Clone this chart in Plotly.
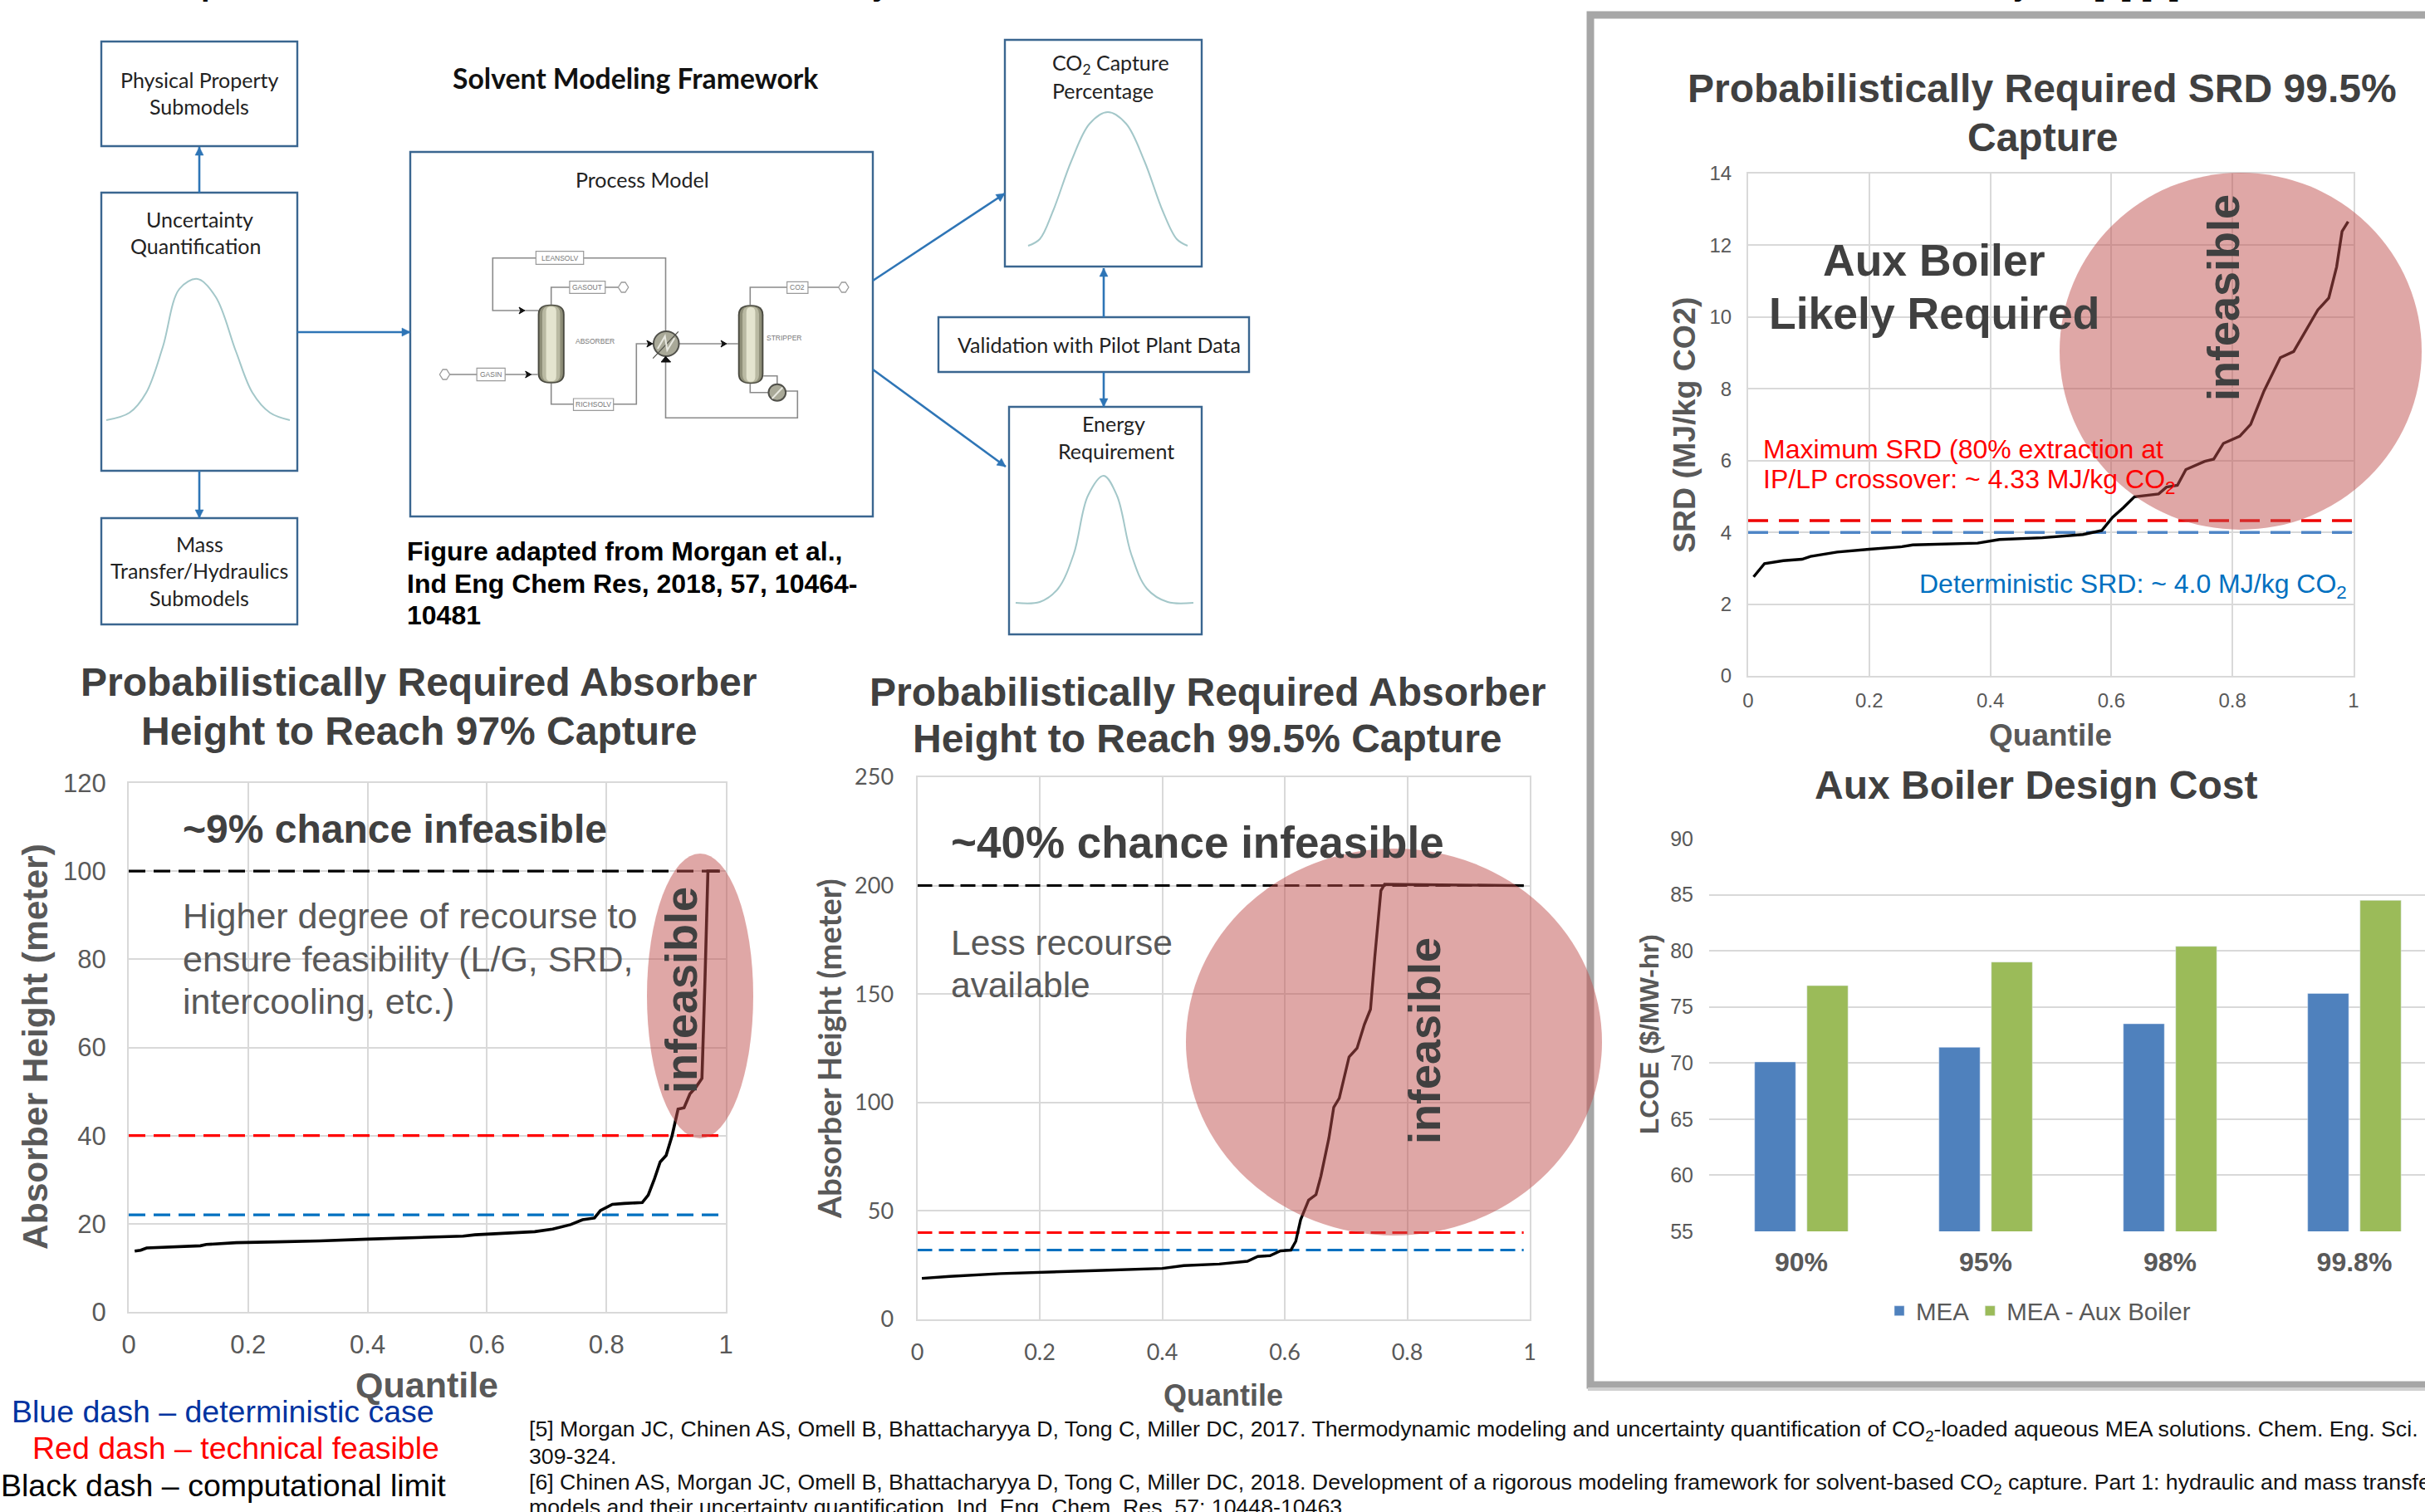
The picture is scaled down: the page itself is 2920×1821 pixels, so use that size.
import math
import plotly.graph_objects as go

W, H = 2920, 1821

# ---------- data ----------
q1 = [0.01,0.02,0.03,0.05,0.08,0.12,0.13,0.15,0.18,0.25,0.32,0.40,0.48,0.56,0.58,0.64,0.68,0.71,0.74,0.76,0.78,0.79,0.81,0.83,0.86,0.87,0.88,0.89,0.90,0.91,0.92,0.93,0.94,0.95,0.96,0.965,0.97,0.99]
h1 = [13.8,14,14.5,14.6,14.8,15,15.3,15.5,15.7,15.9,16.1,16.5,16.8,17.2,17.5,18,18.2,18.8,19.8,20.9,21.3,23,24.4,24.6,24.8,26.5,30,34,35.5,40,46,46.3,49.5,51,53,75,100,100]
q2 = [.0075,.053,.136,.219,.302,.4,.435,.493,.539,.556,.576,.593,.61,.618,.626,.639,.651,.659,.672,.68,.689,.705,.718,.73,.74,.747,.757,.763,.99]
h2 = [18.9,19.8,21.1,22,22.6,23.5,24.8,25.5,26.8,29,29.4,31.6,31.9,36,46,55,57.5,66,83.5,97.8,102,121,125,136,143,167,197.7,200.6,200]
q3 = [.009,.027,.058,.089,.103,.147,.2,.254,.272,.379,.415,.486,.553,.584,.602,.62,.638,.678,.691,.709,.723,.754,.769,.785,.812,.83,.852,.879,.901,.941,.959,.972,.981,.991]
s3 = [2.76,3.13,3.21,3.25,3.33,3.45,3.53,3.6,3.65,3.7,3.8,3.85,3.94,4.05,4.42,4.69,4.99,5.07,5.26,5.31,5.75,5.98,6.04,6.48,6.68,7.01,7.94,8.87,9.04,10.2,10.53,11.4,12.39,12.66]
limit_x = [0, 0.99]
limit_x3 = [0, 1]
c1_black, c1_red, c1_blue = 100, 40, 22
c2_black, c2_red, c2_blue = 200, 40, 32
c3_red, c3_blue = 4.33, 4.0
q_ticks = [0, 0.2, 0.4, 0.6, 0.8, 1]
q_ticktext = ["0", "0.2", "0.4", "0.6", "0.8", "1"]
y1_ticks = [0, 20, 40, 60, 80, 100, 120]
y2_ticks = [0, 50, 100, 150, 200, 250]
y3_ticks = [0, 2, 4, 6, 8, 10, 12, 14]
y4_ticks = [55, 60, 65, 70, 75, 80, 85, 90]
capture = ["90%", "95%", "98%", "99.8%"]
lcoe_mea = [70.1, 71.4, 73.5, 76.2]
lcoe_aux = [76.9, 79.0, 80.4, 84.5]

# bell curves in the flow diagram
bell_u_x = [128,156,176,196,216,238,260,284,304,325,349]
bell_u_y = [506,497,473,418,348,336,358,423,473,497,506]
bell_c_x = [1238,1252,1268,1290,1312,1334,1356,1378,1400,1417,1430]
bell_c_y = [296,288,254,194,149,135,149,194,254,288,296]
bell_e_x = [1223,1252,1274,1293,1310,1329,1345,1362,1381,1406,1437]
bell_e_y = [726,725,709,667,597,573,597,667,709,725,726]

# ---------- helpers ----------
GRID = "#d9d9d9"
TICK = "#595959"
DARK = "#404040"
AX = "#595959"
ARIAL = "Liberation Sans"
CAL = "Lato"
shapes, ann = [], []

def dom_x(a, b): return [a / W, b / W]
def dom_y(top, bot): return [1 - bot / H, 1 - top / H]

def T(x, y, text, size, color="#000000", bold=False, family=ARIAL, anchor="center", angle=0, yanchor="middle"):
    ann.append(dict(x=x, y=y, xref="x5", yref="y5", text=("<b>%s</b>" % text) if bold else text,
                    showarrow=False, xanchor=anchor, yanchor=yanchor, textangle=angle, borderpad=0,
                    font=dict(family=family, size=size, color=color)))

def box(x0, y0, x1, y1, color="#3a6690", width=2.4, fill=None):
    shapes.append(dict(type="rect", xref="x5", yref="y5", x0=x0, y0=y0, x1=x1, y1=y1,
                       line=dict(color=color, width=width), fillcolor=fill or "rgba(0,0,0,0)", layer="above"))

def arrow(x0, y0, x1, y1):
    col = "#2e75b6"
    shapes.append(dict(type="line", xref="x5", yref="y5", x0=x0, y0=y0, x1=x1, y1=y1,
                       line=dict(color=col, width=2.6), layer="above"))
    L = math.hypot(x1 - x0, y1 - y0)
    ux, uy = (x1 - x0) / L, (y1 - y0) / L
    bx, by = x1 - 10 * ux, y1 - 10 * uy
    shapes.append(dict(type="path", xref="x5", yref="y5", layer="above",
                       path=f"M {x1} {y1} L {bx - 5 * uy} {by + 5 * ux} L {bx + 5 * uy} {by - 5 * ux} Z",
                       fillcolor=col, line=dict(color=col, width=0.5)))

def ell(x0, y0, x1, y1):
    shapes.append(dict(type="circle", xref="x5", yref="y5", x0=x0, y0=y0, x1=x1, y1=y1,
                       fillcolor="rgba(192,80,77,0.5)", line=dict(width=0), layer="above"))

# reduced schematic, coordinates in crop units of the process sketch
def sx(x): return 480 + x / 2.613
def sy(y): return 170 + y / 3.0

def poly(points, color="#8a8a8a", width=1.6, fill=None, close=False):
    d = "M " + " L ".join("%.1f %.1f" % (sx(a), sy(b)) for a, b in points) + (" Z" if close else "")
    shapes.append(dict(type="path", xref="x5", yref="y5", path=d, line=dict(color=color, width=width),
                       fillcolor=fill or "rgba(0,0,0,0)", layer="above"))

def roundcol(x0, y0, x1, y1, fill, rx, ry):
    X0, X1, Y0, Y1 = sx(x0), sx(x1), sy(y0), sy(y1)
    d = (f"M {X0} {Y0+ry} Q {X0} {Y0} {X0+rx} {Y0} L {X1-rx} {Y0} Q {X1} {Y0} {X1} {Y0+ry} "
         f"L {X1} {Y1-ry} Q {X1} {Y1} {X1-rx} {Y1} L {X0+rx} {Y1} Q {X0} {Y1} {X0} {Y1-ry} Z")
    shapes.append(dict(type="path", xref="x5", yref="y5", path=d, line=dict(width=0), fillcolor=fill, layer="above"))

def column(x0, x1, y0, y1):
    roundcol(x0, y0, x1, y1, "#4a4a40", 15, 12)
    roundcol(x0 + 5, y0 + 4, x1 - 5, y1 - 4, "#8e8e78", 13, 11)
    roundcol(x0 + 14, y0 + 6, x1 - 14, y1 - 6, "#b9b9a2", 9, 9)
    roundcol(x0 + 26, y0 + 8, x1 - 26, y1 - 8, "#e4e4cf", 5, 6)

def disc(cx, cy, rx, ry):
    shapes.append(dict(type="circle", xref="x5", yref="y5", x0=sx(cx-rx), y0=sy(cy-ry), x1=sx(cx+rx), y1=sy(cy+ry),
                       line=dict(color="#50504a", width=2), fillcolor="#a9a998", layer="above"))

def tag(x0, y0, x1, y1, text, size=8.5):
    box(sx(x0), sy(y0), sx(x1), sy(y1), color="#9a9a9a", width=1.2, fill="#ffffff")
    T(sx((x0 + x1) / 2), sy((y0 + y1) / 2), text, size, "#777777")

def tri(x, y, d=1):
    poly([(x - 9 * d, y - 12), (x + 9 * d, y), (x - 9 * d, y + 12), (x - 4 * d, y)], color="#111111", width=1, fill="#111111", close=True)

def hollow(x, y):
    poly([(x - 16, y), (x - 6, y - 18), (x + 6, y - 18), (x + 16, y), (x + 6, y + 18), (x - 6, y + 18)],
         color="#9a9a9a", width=1.3, fill="#ffffff", close=True)

# ---------- diagram ----------
box(122, 50, 358, 176); box(122, 232, 358, 567); box(122, 624, 358, 752)
box(494, 183, 1051, 622)
box(1210, 48, 1447, 321); box(1130, 382, 1504, 448); box(1215, 490, 1447, 764)

poly([(440,612),(296,612),(296,422),(840,422),(840,690)])
poly([(480,590),(480,528),(690,528)])
poly([(160,843),(438,843)])
poly([(480,875),(480,950),(748,950),(748,732),(800,732)])
poly([(882,732),(1068,732)])
poly([(1106,592),(1106,528),(1385,528)])
poly([(1148,848),(1191,848),(1191,880)])
poly([(1106,877),(1106,908),(1165,908)])
poly([(1218,903),(1255,903),(1255,1000),(840,1000),(840,775)])
column(438, 522, 590, 875); column(1068, 1148, 592, 877)
disc(842, 732, 40, 45); disc(1191, 908, 27, 30)
poly([(800,785),(880,688)], color="#50504a", width=1.2)
poly([(815,750),(838,705),(845,755),(868,712)], color="#e8e8e0", width=2)
poly([(1175,930),(1208,890)], color="#e8e8e0", width=2)
tag(432, 398, 582, 445, "LEANSOLV"); tag(538, 506, 650, 550, "GASOUT"); tag(246, 820, 335, 866, "GASIN")
tag(550, 930, 676, 973, "RICHSOLV"); tag(1222, 508, 1288, 550, "CO2")
hollow(145, 843); hollow(707, 528); hollow(1400, 528)
tri(388, 612); tri(408, 843); tri(790, 732); tri(1023, 732)
poly([(840,778),(826,798),(856,798)], color="#111111", width=1, fill="#111111", close=True)
T(sx(617), sy(722), "ABSORBER", 8.5, "#777777"); T(sx(1215), sy(712), "STRIPPER", 8.5, "#777777")

arrow(240, 232, 240, 177); arrow(240, 567, 240, 624); arrow(358, 400, 494, 400)
arrow(1051, 338, 1210, 233); arrow(1051, 445, 1211, 562)
arrow(1329, 382, 1329, 323); arrow(1329, 448, 1329, 490)

FS = 25
T(765, 94, "Solvent Modeling Framework", 33.7, "#111111", True, CAL)
T(240, 96, "Physical Property", FS, "#222222", family=CAL); T(240, 128, "Submodels", FS, "#222222", family=CAL)
T(240, 264, "Uncertainty", FS, "#222222", family=CAL); T(235, 296, "Quantification", FS, "#222222", family=CAL)
T(240, 655, "Mass", FS, "#222222", family=CAL); T(240, 687, "Transfer/Hydraulics", FS, "#222222", family=CAL)
T(240, 720, "Submodels", FS, "#222222", family=CAL)
T(773, 216, "Process Model", FS, "#222222", family=CAL)
T(1266, 77, "CO<sub>2</sub> Capture", FS, "#222222", family=CAL, anchor="left")
T(1266, 109, "Percentage", FS, "#222222", family=CAL, anchor="left")
T(1323, 415, "Validation with Pilot Plant Data", FS, "#222222", family=CAL)
T(1341, 510, "Energy", FS, "#222222", family=CAL); T(1344, 543, "Requirement", FS, "#222222", family=CAL)
for i, line in enumerate(["Figure adapted from Morgan et al.,", "Ind Eng Chem Res, 2018, 57, 10464-", "10481"]):
    T(489, 664 + 38.5 * i, line, 32, "#000000", True, anchor="left")

# text cut off by the top edge of the page
for xpos, frag in [(241, "p"), (1049, "y"), (1771, ","), (2423, "y"), (2520, "[5] [6]")]:
    T(xpos, 3, frag, 38, "#000000", True, anchor="left", yanchor="bottom")

# page frame
shapes.append(dict(type="rect", xref="x5", yref="y5", x0=1915, y0=18, x1=3000, y1=1668,
                   line=dict(color="#a6a6a6", width=9), fillcolor="rgba(0,0,0,0)", layer="above"))
shapes.append(dict(type="line", xref="x5", yref="y5", x0=1912, y0=1673, x1=3000, y1=1673,
                   line=dict(color="#cfcfcf", width=4), layer="above"))

# infeasible regions
ell(779, 1028, 907, 1371); ell(1428, 1022, 1929, 1488); ell(2480, 208, 2916, 638)

# ---------- chart texts ----------
for i, line in enumerate(["Probabilistically Required Absorber", "Height to Reach 97% Capture"]):
    T(504, 821 + 59 * i, line, 48, DARK, True)
T(219, 998, "~9% chance infeasible", 48, DARK, True, anchor="left")
for i, line in enumerate(["Higher degree of recourse to", "ensure feasibility (L/G, SRD,", "intercooling, etc.)"]):
    T(219, 1103 + 51.5 * i, line, 43, TICK, anchor="left")
T(820, 1193, "infeasible", 54, DARK, True, angle=-90)
T(42, 1261, "Absorber Height (meter)", 42.5, AX, True, angle=-90)
T(514, 1668, "Quantile", 43, AX, True)

for i, line in enumerate(["Probabilistically Required Absorber", "Height to Reach 99.5% Capture"]):
    T(1454, 833 + 56 * i, line, 48, DARK, True)
T(1144, 1014, "~40% chance infeasible", 53, DARK, True, anchor="left")
T(1144, 1135, "Less recourse", 42.5, TICK, anchor="left"); T(1144, 1186, "available", 42.5, TICK, anchor="left")
T(1715, 1254, "infeasible", 54, DARK, True, angle=-90)
T(998, 1263, "Absorber Height (meter)", 38, AX, True, CAL, angle=-90)
T(1473, 1680, "Quantile", 36, AX, True)

for i, line in enumerate(["Probabilistically Required SRD 99.5%", "Capture"]):
    T(2459, 106 + 59 * i, line, 48, DARK, True)
T(2329, 313, "Aux Boiler", 53.5, DARK, True); T(2329, 377, "Likely Required", 53.5, DARK, True)
T(2122, 541, "Maximum SRD (80% extraction at", 32, "#ff0000", anchor="left")
T(2122, 579, "IP/LP crossover: ~ 4.33 MJ/kg CO<sub>2</sub>", 32, "#ff0000", anchor="left")
T(2310, 705, "Deterministic SRD: ~ 4.0 MJ/kg CO<sub>2</sub>", 32, "#0070c0", anchor="left")
T(2677, 359, "infeasible", 54, DARK, True, angle=-90)
T(2028, 512, "SRD (MJ/kg CO2)", 37.5, AX, True, angle=-90)
T(2469, 885, "Quantile", 37, AX, True)

T(2451, 945, "Aux Boiler Design Cost", 48, DARK, True)
T(1986, 1246, "LCOE ($/MW-hr)", 31.5, AX, True, angle=-90)

T(13, 1700, "Blue dash – deterministic case", 37.5, "#0033a0", anchor="left")
T(38, 1744, "Red dash – technical feasible", 37.5, "#ff0000", anchor="left")
T(0, 1789, "Black dash – computational limit", 37.5, "#000000", anchor="left")

refs = [("[5] Morgan JC, Chinen AS, Omell B, Bhattacharyya D, Tong C, Miller DC, 2017. Thermodynamic modeling and uncertainty quantification of CO<sub>2</sub>-loaded aqueous MEA solutions. Chem. Eng. Sci. 168:", 1723),
        ("309-324.", 1754),
        ("[6] Chinen AS, Morgan JC, Omell B, Bhattacharyya D, Tong C, Miller DC, 2018. Development of a rigorous modeling framework for solvent-based CO<sub>2</sub> capture. Part 1: hydraulic and mass transfer", 1787),
        ("models and their uncertainty quantification. Ind. Eng. Chem. Res. 57: 10448-10463.", 1815)]
for line, y in refs:
    T(636, y, line, 26.7, "#111111", anchor="left")

# ---------- traces ----------
fig = go.Figure()
def line(x, y, ax, color, width=3.5, dash=None, shape="linear"):
    s = "" if ax == 1 else str(ax)
    fig.add_trace(go.Scatter(x=x, y=y, mode="lines", xaxis="x" + s, yaxis="y" + s, showlegend=False, hoverinfo="skip",
                             line=dict(color=color, width=width, dash=dash, shape=shape)))

d1, d2, d3 = "20px,10px", "18px,8px", "24px,13px"
line(limit_x, [c1_black] * 2, 1, "#000000", 3.2, d1); line(limit_x, [c1_red] * 2, 1, "#ff0000", 3.2, d1)
line(limit_x, [c1_blue] * 2, 1, "#0070c0", 3.2, d1); line(q1, h1, 1, "#000000", 3.6)
line(limit_x, [c2_black] * 2, 2, "#000000", 3, d2); line(limit_x, [c2_red] * 2, 2, "#ff0000", 3, d2)
line(limit_x, [c2_blue] * 2, 2, "#0070c0", 3, d2); line(q2, h2, 2, "#000000", 3.4)
line(limit_x3, [c3_blue] * 2, 3, "#4f86c6", 3.5, d3); line(limit_x3, [c3_red] * 2, 3, "#ee0000", 3.5, d3)
line(q3, s3, 3, "#000000", 3.4)

fig.add_trace(go.Bar(name="MEA", x=capture, y=lcoe_mea, xaxis="x4", yaxis="y4", marker_color="#4f81bd", hoverinfo="skip"))
fig.add_trace(go.Bar(name="MEA - Aux Boiler", x=capture, y=lcoe_aux, xaxis="x4", yaxis="y4", marker_color="#9bbb59", hoverinfo="skip"))

for bx, by in [(bell_u_x, bell_u_y), (bell_c_x, bell_c_y), (bell_e_x, bell_e_y)]:
    line(bx, by, 5, "#a3c7c9", 2, shape="spline")

def qax(domain, anchor, size, fam, stand):
    return dict(domain=domain, anchor=anchor, range=[0, 1], tickvals=q_ticks, ticktext=q_ticktext, showgrid=True,
                gridcolor=GRID, gridwidth=2, showline=True, linecolor=GRID, linewidth=2, mirror=True, zeroline=False,
                ticks="", ticklabelstandoff=stand, tickfont=dict(family=fam, size=size, color=TICK))
def vax(domain, anchor, rng, ticks, size, fam, stand):
    return dict(domain=domain, anchor=anchor, range=rng, tickvals=ticks, showgrid=True, gridcolor=GRID, gridwidth=2,
                showline=True, linecolor=GRID, linewidth=2, mirror=True, zeroline=False, ticks="", ticklabelstandoff=stand,
                tickfont=dict(family=fam, size=size, color=TICK))

fig.update_layout(
    width=W, height=H, margin=dict(l=0, r=0, t=0, b=0, autoexpand=False), autosize=False,
    paper_bgcolor="#ffffff", plot_bgcolor="rgba(0,0,0,0)", shapes=shapes, annotations=ann,
    barmode="group", bargap=0.432, bargroupgap=0.216,
    showlegend=True,
    legend=dict(orientation="h", x=2455 / W, y=1 - 1579 / H, xanchor="center", yanchor="middle",
                font=dict(family=ARIAL, size=29.5, color=TICK), itemwidth=30, bgcolor="rgba(0,0,0,0)"),
    xaxis=qax(dom_x(155, 874), "y", 31, ARIAL, 11),
    yaxis=vax(dom_y(943, 1580), "x", [0, 120], y1_ticks, 31, ARIAL, 19),
    xaxis2=qax(dom_x(1104.5, 1842), "y2", 27, CAL, 15),
    yaxis2=vax(dom_y(936, 1589), "x2", [0, 250], y2_ticks, 27, CAL, 21),
    xaxis3=qax(dom_x(2105, 2834), "y3", 24, ARIAL, 7),
    yaxis3=vax(dom_y(209, 814), "x3", [0, 14], y3_ticks, 24, ARIAL, 13),
    xaxis4=dict(domain=dom_x(2058, W), anchor="y4", range=[-0.5, 3.383], type="category", showgrid=False, zeroline=False,
                showline=False, ticks="", ticklabelstandoff=15, tickfont=dict(family=ARIAL, size=32, color=TICK, weight="bold")),
    yaxis4=dict(domain=dom_y(1010, 1483), anchor="x4", range=[55, 90], tickvals=y4_ticks, showgrid=True, gridcolor=GRID,
                gridwidth=2, zeroline=False, showline=False, ticks="", ticklabelstandoff=18,
                tickfont=dict(family=ARIAL, size=25, color=TICK)),
    xaxis5=dict(domain=[0, 1], range=[0, W], visible=False, anchor="y5", fixedrange=True),
    yaxis5=dict(domain=[0, 1], range=[H, 0], visible=False, anchor="x5", fixedrange=True),
)
fig.write_html("out.html", config={"displayModeBar": False},
               post_script="document.body.style.margin='0';document.body.style.overflow='hidden';")
